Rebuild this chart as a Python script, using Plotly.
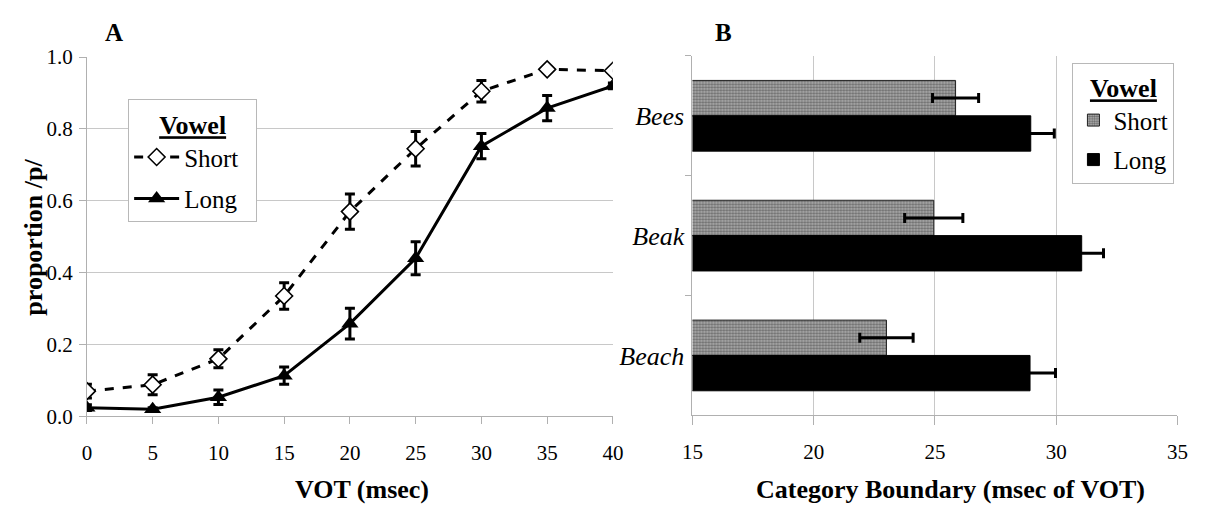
import plotly.graph_objects as go

# ---------------- data ----------------
vot = [0, 5, 10, 15, 20, 25, 30, 35, 40]
short_prop = [0.07, 0.088, 0.16, 0.335, 0.57, 0.745, 0.905, 0.966, 0.962]
short_err = [0.019, 0.028, 0.025, 0.037, 0.049, 0.048, 0.03, 0.0, 0.0]
long_prop = [0.024, 0.02, 0.053, 0.113, 0.258, 0.44, 0.752, 0.858, 0.92]
long_err = [0.008, 0.004, 0.02, 0.024, 0.043, 0.046, 0.035, 0.035, 0.008]

words = ["Bees", "Beak", "Beach"]
short_bound = [25.85, 24.95, 23.0]
short_bound_err = [0.95, 1.2, 1.1]
long_bound = [28.95, 31.05, 28.92]
long_bound_err = [0.97, 0.9, 1.05]

W, H = 1215, 517
FONT = "Liberation Serif, Times New Roman, serif"
GRID = "#c8c8c8"
AXC = "#b0b0b0"


def px(x):
    return x / W


def py(y):
    return (H - y) / H


fig = go.Figure()

# ---------------- panel A ----------------
fig.add_trace(go.Scatter(
    x=vot, y=short_prop, name="Short&nbsp;&nbsp;", mode="lines+markers",
    line=dict(color="black", width=3, dash="dash"),
    marker=dict(symbol="diamond", size=13, color="white",
                line=dict(color="black", width=1.6)),
    error_y=dict(type="data", array=short_err, visible=True,
                 color="black", thickness=3, width=5),
    xaxis="x", yaxis="y", legend="legend", legendgroup="a1",
))
fig.add_trace(go.Scatter(
    x=vot, y=long_prop, name="Long", mode="lines+markers",
    line=dict(color="black", width=3),
    marker=dict(symbol="triangle-up", size=15, color="black"),
    error_y=dict(type="data", array=long_err, visible=True,
                 color="black", thickness=3, width=5),
    xaxis="x", yaxis="y", legend="legend", legendgroup="a2",
))

# ---------------- panel B ----------------
fig.add_trace(go.Bar(
    y=words, x=short_bound, name="Short", orientation="h",
    marker=dict(color="white", line=dict(color="#222222", width=1),
                pattern=dict(shape=".", size=3, solidity=0.5,
                             fgcolor="#1e1e1e", bgcolor="#b4b4b4")),
    error_x=dict(type="data", array=short_bound_err, visible=True,
                 color="black", thickness=3, width=5),
    xaxis="x2", yaxis="y2", legend="legend2", legendgroup="b1",
))
fig.add_trace(go.Bar(
    y=words, x=long_bound, name="Long", orientation="h",
    marker=dict(color="black", line=dict(color="black", width=1)),
    error_x=dict(type="data", array=long_bound_err, visible=True,
                 color="black", thickness=3, width=5),
    xaxis="x2", yaxis="y2", legend="legend2", legendgroup="b2",
))

tickfont = dict(family=FONT, size=21, color="black")


def ann(text, x, y, size, **kw):
    return dict(text=text, x=px(x), y=py(y), xref="paper", yref="paper",
                xanchor="center", yanchor="middle", showarrow=False,
                font=dict(family=FONT, size=size, color="black"), **kw)


legend_common = dict(
    xanchor="left", yanchor="top",
    bgcolor="white", bordercolor="#b8b8b8", borderwidth=1,
    font=dict(family=FONT, size=25, color="black"),
    title=dict(text="<u><b>Vowel</b></u>", side="top center",
               font=dict(family=FONT, size=26, color="black")),
)

fig.update_layout(
    width=W, height=H,
    margin=dict(l=0, r=0, t=0, b=0),
    paper_bgcolor="white", plot_bgcolor="white",
    font=dict(family=FONT, color="black"),
    barmode="group", bargap=0.41, bargroupgap=0,
    xaxis=dict(
        domain=[px(77.3), px(613)], range=[0, 40], tickvals=vot,
        showgrid=False, zeroline=False, showline=True, linecolor=AXC,
        ticks="outside", ticklen=7, tickcolor=AXC,
        ticklabelstandoff=10, tickfont=tickfont, anchor="y",
    ),
    yaxis=dict(
        domain=[py(424), py(47.3)], range=[0, 1.0], dtick=0.2,
        tickformat=".1f",
        showgrid=True, gridcolor=GRID, zeroline=False, showline=True,
        linecolor=AXC, ticks="outside", ticklen=7, tickcolor=AXC,
        ticklabelstandoff=2, tickfont=tickfont, anchor="x",
    ),
    xaxis2=dict(
        domain=[px(694), px(1188)], range=[15, 35], dtick=5,
        showgrid=True, gridcolor=GRID, zeroline=False, showline=True,
        linecolor=AXC, ticks="outside", ticklen=9, tickcolor=AXC,
        ticklabelstandoff=8, tickfont=tickfont, anchor="y2",
    ),
    yaxis2=dict(
        domain=[py(423), py(46)], autorange="reversed",
        categoryorder="array", categoryarray=words,
        showgrid=False, zeroline=False, showline=True, linecolor=AXC,
        ticks="outside", tickson="boundaries", ticklen=6, tickcolor=AXC,
        ticklabelstandoff=2,
        tickfont=dict(family=FONT, size=26, color="black", style="italic"),
        anchor="x2",
    ),
    legend=dict(x=px(119.3), y=py(91.7), itemwidth=45, tracegroupgap=6,
                **legend_common),
    legend2=dict(x=px(1081), y=py(53), itemwidth=30, tracegroupgap=4,
                 **legend_common),
    annotations=[
        ann("<b>A</b>", 105, 22, 25),
        ann("<b>B</b>", 726, 22, 25),
        ann("<b>VOT (msec)</b>", 357, 501, 26),
        ann("<b>Category Boundary (msec of VOT)</b>", 957, 501, 26),
        ann("<b>proportion /p/</b>", 22, 236, 26, textangle=-90),
    ],
)

fig.write_html(
    "out.html", config={"displayModeBar": False},
    post_script=("document.documentElement.style.margin='0px';"
                 "document.body.style.margin='0px';"
                 "document.body.style.overflow='hidden';"
                 "document.documentElement.style.overflow='hidden';"),
)
